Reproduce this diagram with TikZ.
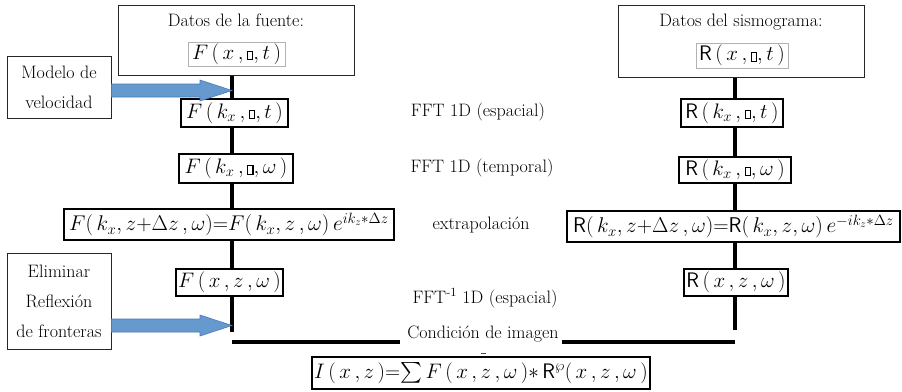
\RequirePackage{fix-cm}
\documentclass[tikz,border=0pt]{standalone}
\usepackage{exscale}
\usetikzlibrary{calc,shadows}
% small outlined square that stands in place of a missing glyph
\newcommand\sqglyph{\mbox{\setlength\fboxsep{0pt}\setlength\fboxrule{1.2pt}\fbox{\rule{0pt}{7.5pt}\hspace{4pt}}}}
\newcommand\Rs{\mathsf{R}}
\definecolor{arrowfill}{RGB}{102,153,206}
\definecolor{arrowedge}{RGB}{72,122,182}
\tikzset{
  lbl/.style={inner sep=0pt, font=\fontsize{18}{30}\selectfont, align=center},
  bigbox/.style={draw=black!85, line width=1pt, inner sep=0pt, rectangle},
  innerbox/.style={draw=black!30, line width=0.8pt, inner sep=0pt, rectangle, font=\fontsize{21}{24}\selectfont},
  eqbox/.style={draw=black, line width=1.3pt, fill=white, inner sep=0pt, rectangle,
    font=\fontsize{21}{24}\selectfont,
    drop shadow={shadow xshift=1.2pt, shadow yshift=-1.2pt, fill=black!70, opacity=0.6}},
  longeq/.style={font=\fontsize{21.3}{24}\selectfont},
  flowline/.style={line width=3.6pt, black},
  baseline/.style={line width=4pt, black},
  fatarrow/.style={fill=arrowfill, draw=arrowedge, line width=0.6pt},
}
\begin{document}
\begin{tikzpicture}[x=1pt, y=-1pt]
\useasboundingbox (0,0) rectangle (902,391);

% column axes
\coordinate (colL) at (232,0);
\coordinate (colR) at (735,0);

% ---- source side ----
\node[bigbox, minimum width=236pt, minimum height=70pt] (src) at (236,40) {};
\node[lbl] (srct) at (236,20) {Datos de la fuente:};
\node[innerbox, minimum width=97pt, minimum height=24pt] (srcf) at (236.5,54) {$F\,(\,x\,,\sqglyph,t\,)$};

\node[eqbox, minimum width=107pt, minimum height=28pt] (b1) at (234.5,113) {$F\,(\,k_x\,,\sqglyph,t\,)$};
\node[eqbox, minimum width=114pt, minimum height=29pt] (b2) at (236,168.5) {$F\,(\,k_x\,,\sqglyph,\omega\,)$};
\node[eqbox, longeq, minimum width=330pt, minimum height=31pt] (b3) at (229,224.5) {$F(\,k_x,z{+}\Delta z\,,\omega){=}F(\,k_x,z\,,\omega)\,e^{ik_z{*}\Delta z}$};
\node[eqbox, minimum width=107pt, minimum height=27pt] (b4) at (229.5,282.5) {$F\,(\,x\,,z\,,\omega\,)$};

% ---- receiver side ----
\node[bigbox, minimum width=246pt, minimum height=72pt] (sis) at (741,41) {};
\node[lbl] (sist) at (741,22) {Datos del sismograma:};
\node[innerbox, minimum width=92pt, minimum height=25pt] (sisf) at (742,55.5) {$\Rs\,(\,x\,,\sqglyph,t\,)$};

\node[eqbox, minimum width=102pt, minimum height=28pt] (r1) at (732,113) {$\Rs\,(\,k_x\,,\sqglyph,t\,)$};
\node[eqbox, minimum width=112pt, minimum height=26pt] (r2) at (735,170) {$\Rs\,(\,k_x\,,\sqglyph,\omega\,)$};
\node[eqbox, longeq, minimum width=333pt, minimum height=31pt] (r3) at (733.5,226.5) {$\Rs(\,k_x,z{+}\Delta z\,,\omega){=}\Rs(\,k_x,z,\omega)\,e^{-ik_z{*}\Delta z}$};
\node[eqbox, minimum width=104pt, minimum height=27pt] (r4) at (736,282.5) {$\Rs\,(\,x\,,z\,,\omega\,)$};

% ---- side inputs ----
\node[bigbox, minimum width=104pt, minimum height=62pt, lbl, draw=black!85, line width=1pt] (mv) at (59,87) {Modelo de\\velocidad};
\node[bigbox, minimum width=104pt, minimum height=96pt, lbl, draw=black!85, line width=1pt] (el) at (59,301) {Eliminar\\Reflexi\'on\\de fronteras};

% ---- step labels ----
\node[lbl] (s1) at (478,112) {FFT 1D (espacial)};
\node[lbl] (s2) at (482,168) {FFT 1D (temporal)};
\node[lbl] (s3) at (481,225) {extrapolaci\'on};
\node[lbl] (s4) at (485,298) {FFT\textsuperscript{-1} 1D (espacial)};
\node[lbl] (cond) at (483,334) {Condici\'on de imagen};

% ---- imaging condition ----
\node[eqbox, minimum width=338pt, minimum height=32pt] (img) at (481,373) {$I\,(\,x\,,z\,){=}{\textstyle\sum}\,F\,(\,x\,,z\,,\omega\,){*}\,\Rs^{\wp}(\,x\,,z\,,\omega\,)$};
\draw[black!70, line width=1pt] (481,353) -- (486,353);

% ---- flow lines ----
\coordinate (endL) at (232,332);
\coordinate (endR) at (735,330);
\draw[flowline] (src.south -| colL) -- (b1.north -| colL);
\draw[flowline] (b1.south -| colL) -- (b2.north -| colL);
\draw[flowline] (b2.south -| colL) -- (b3.north -| colL);
\draw[flowline] (b3.south -| colL) -- (b4.north -| colL);
\draw[flowline] (b4.south -| colL) -- (endL);

\draw[flowline] (sis.south -| colR) -- (r1.north -| colR);
\draw[flowline] (r1.south -| colR) -- (r2.north -| colR);
\draw[flowline] (r2.south -| colR) -- (r3.north -| colR);
\draw[flowline] (r3.south -| colR) -- (r4.north -| colR);
\draw[flowline] (r4.south -| colR) -- (endR);

\coordinate (hl) at (232,342);
\coordinate (hr) at (735,342);
\draw[baseline] (hl) -- ($(cond.west |- hl)+(-7,0)$);
\draw[baseline] ($(cond.east |- hr)+(3,0)$) -- (hr);

% ---- block arrows into the source column ----
\coordinate (tipA) at (232,90.5);
\coordinate (tipB) at (232,325.5);
\draw[fatarrow] (mv.east |- tipA) ++(0,-6.5) -- ($(tipA)+(-32,-6.5)$) -- ($(tipA)+(-32,-10.5)$) -- (tipA)
  -- ($(tipA)+(-32,10.5)$) -- ($(tipA)+(-32,6.5)$) -- ($(mv.east |- tipA)+(0,6.5)$) -- cycle;
\draw[fatarrow] (el.east |- tipB) ++(0,-6.5) -- ($(tipB)+(-32,-6.5)$) -- ($(tipB)+(-32,-10.5)$) -- (tipB)
  -- ($(tipB)+(-32,10.5)$) -- ($(tipB)+(-32,6.5)$) -- ($(el.east |- tipB)+(0,6.5)$) -- cycle;
\end{tikzpicture}
\end{document}
